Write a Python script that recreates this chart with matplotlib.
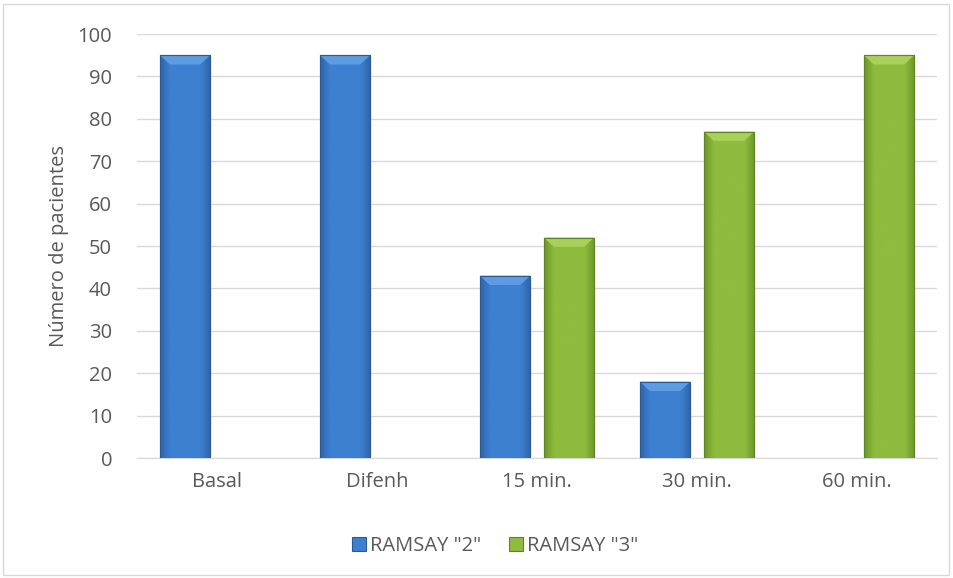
import matplotlib
matplotlib.use("Agg")
import matplotlib.pyplot as plt
import numpy as np
from matplotlib.patches import Rectangle, Polygon
from matplotlib.colors import LinearSegmentedColormap

categories = ["Basal", "Difenh", "15 min.", "30 min.", "60 min."]
ramsay2 = [95, 95, 43, 18, 0]
ramsay3 = [0, 0, 52, 77, 95]
series_names = ['RAMSAY "2"', 'RAMSAY "3"']
yticks = [0, 10, 20, 30, 40, 50, 60, 70, 80, 90, 100]

plt.rcParams['font.family'] = ['Open Sans', 'DejaVu Sans']
txt = '#595959'
fs = 14.5

fig = plt.figure(figsize=(9.54, 5.78), dpi=100)
ax = fig.add_axes([137/954, (578-458)/578, 800/954, (458-34)/578])

x = np.arange(len(categories))
w = 0.315
off = 0.2

def grad_cmap(c_dark, c_mid):
    return LinearSegmentedColormap.from_list('g', [c_dark, c_mid, c_mid, c_mid, c_mid, c_dark])

blue_cmap = grad_cmap('#2E63AA', '#3D80D0')
green_cmap = grad_cmap('#6C962A', '#8FBB3E')

b1 = ax.bar(x - off, ramsay2, w, color='#3D80D0', edgecolor='#2B5A96', linewidth=0.8, zorder=3)
b2 = ax.bar(x + off, ramsay3, w, color='#8FBB3E', edgecolor='#5F8424', linewidth=0.8, zorder=3)

grad = np.linspace(0, 1, 256).reshape(1, -1)
for bars, cm, top in ((b1, blue_cmap, '#5E9BE0'), (b2, green_cmap, '#A9D058')):
    for p in bars:
        h = p.get_height()
        if h <= 0:
            p.set_visible(False)
            continue
        x0 = p.get_x(); ww = p.get_width()
        im = ax.imshow(grad, extent=[x0, x0 + ww, 0, h], aspect='auto', cmap=cm, zorder=3.5)
        im.set_clip_path(p)
        bev = 2.2
        ax.add_patch(Polygon([[x0, h], [x0 + ww, h], [x0 + ww * 0.8, h - bev], [x0 + ww * 0.2, h - bev]],
                             closed=True, facecolor=top, edgecolor='none', zorder=3.6))
        ax.add_patch(Rectangle((x0, 0), ww, h, fill=False, edgecolor=p.get_edgecolor(), linewidth=0.8, zorder=3.7))

ax.set_xlim(-0.5, 4.5)
ax.set_ylim(0, 100)
ax.set_yticks(yticks)
ax.set_xticks(x)
ax.set_xticklabels(categories)
ax.yaxis.grid(True, color='#D9D9D9', linewidth=1.0, zorder=0)
ax.set_axisbelow(True)
for s in ['top', 'right', 'left']:
    ax.spines[s].set_visible(False)
ax.spines['bottom'].set_color('#D9D9D9')
ax.tick_params(axis='both', length=0, labelsize=fs, colors=txt)
ax.tick_params(axis='y', pad=18)
ax.tick_params(axis='x', pad=10)
ax.set_ylabel('Número de pacientes', fontsize=fs, color=txt, labelpad=6)

h1 = Rectangle((0, 0), 1, 1, facecolor='#3D80D0', edgecolor='#2B5A96', linewidth=0.8)
h2 = Rectangle((0, 0), 1, 1, facecolor='#8FBB3E', edgecolor='#5F8424', linewidth=0.8)
leg = fig.legend(handles=[h1, h2], labels=series_names, loc='center', bbox_to_anchor=(495/954, 1 - 546/578),
                 ncol=2, frameon=False, fontsize=fs, handlelength=0.7, handleheight=0.7,
                 handletextpad=0.2, columnspacing=1.4)
for t in leg.get_texts():
    t.set_color(txt)

fig.patches.append(Rectangle((3/954, 3/578), 946/954, 571/578, transform=fig.transFigure,
                             fill=False, edgecolor='#D9D9D9', linewidth=1.0))

fig.savefig('out.png', dpi=100)
